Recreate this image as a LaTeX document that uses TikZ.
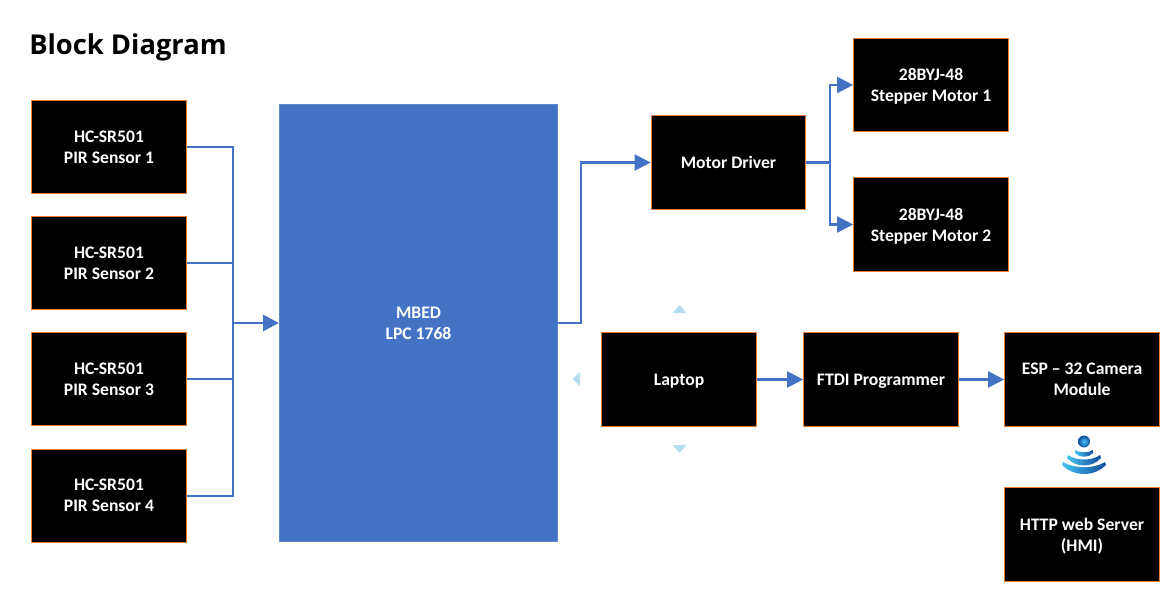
\documentclass[tikz,border=0pt]{standalone}
\usepackage{fontspec}
\setmainfont{Carlito}
\newfontfamily\titlefont{Open Sans}
\usetikzlibrary{positioning,arrows.meta}
\definecolor{linkblue}{HTML}{4472C4}
\definecolor{rimorange}{HTML}{ED7D31}
\definecolor{handleblue}{HTML}{B5DCEC}
\definecolor{wifilight}{HTML}{45C3F2}
\definecolor{wifidark}{HTML}{124C9C}
\tikzset{
	blockfont/.style={font=\bfseries\fontsize{13.2}{15.8}\selectfont},
	blockbox/.style={draw=rimorange, line width=0.75pt, fill=black, text=white, blockfont, align=center, minimum width=116pt, minimum height=69.8pt, inner sep=0pt},
	flatbox/.style={blockbox, text depth=0pt},
	link/.style={draw=linkblue, line width=1.6pt, -{Triangle[length=12pt, width=12pt]}},
	wire/.style={draw=linkblue, line width=1.6pt},
	handle/.style={fill=handleblue},
	wifiarc/.style={left color=wifilight, right color=wifidark},
}
\begin{document}
\begin{tikzpicture}[
		x=0.75pt, y=-0.75pt,
		node distance=16.6pt,
	]
		\useasboundingbox (0,0) rectangle (1175,602);
		\node (title) at (29,55) [anchor=base west, inner sep=0pt, font=\titlefont\bfseries\fontsize{20.5}{22}\selectfont] {Block Diagram};

		\node (pir1) at (109,147) [blockbox] {HC-SR501\\PIR Sensor 1};
		\node (pir2) [blockbox, below=of pir1] {HC-SR501\\PIR Sensor 2};
		\node (pir3) [blockbox, below=of pir2] {HC-SR501\\PIR Sensor 3};
		\node (pir4) [blockbox, below=of pir3] {HC-SR501\\PIR Sensor 4};
		\node (mbed) at (418.5,323) [draw=linkblue!85!white, line width=0.75pt, fill=linkblue, text=white, blockfont, align=center, minimum width=208.5pt, minimum height=328pt, inner sep=0pt] {MBED\\LPC 1768};
		\node (motor) at (728.5,162.5) [blockbox] {Motor Driver};
		\node (step1) at (931,85) [flatbox] {28BYJ-48\\Stepper Motor 1};
		\node (step2) at (931,224.5) [flatbox] {28BYJ-48\\Stepper Motor 2};
		\node (laptop) at (679,379.5) [flatbox] {Laptop};
		\node (ftdi) at (881,379.5) [flatbox] {FTDI Programmer};
		\node (esp) at (1082,379.5) [blockbox] {ESP -- 32 Camera\\Module};
		\node (http) at (1082,534.5) [flatbox] {HTTP web Server\\(HMI)};

		\coordinate (bus) at (233,323);
		\coordinate (riser) at (581,323);
		\coordinate (fork) at (830,162.5);

		\draw[wire] (pir1.east) -| (bus);
		\draw[wire] (pir2.east) -| (bus);
		\draw[wire] (pir3.east) -| (bus);
		\draw[wire] (pir4.east) -| (bus);
		\draw[link, line width=2.2pt] (bus) -- (mbed.west);

		\draw[link] (mbed.east) -- (riser) |- (motor.west);
		\draw[wire, line width=2.2pt] (motor.east) -- (fork);
		\draw[link] (fork) |- (step1.west);
		\draw[link] (fork) |- (step2.west);

		\draw[link] (laptop.east) -- (ftdi.west);
		\draw[link] (ftdi.east) -- (esp.west);

		% handles round the laptop
		\fill[handle] (672.5,313) -- (679.5,305) -- (686.5,313) -- cycle;
		\fill[handle] (672.5,445) -- (679.5,453) -- (686.5,445) -- cycle;
		\fill[handle] (580,372) -- (572.5,379) -- (580,386) -- cycle;

		% wifi icon
		\shade[inner color=wifilight, outer color=wifidark] (1084,441.5) circle (6);
		\shade[wifiarc] (1075,450) .. controls (1079,453) and (1089,453) .. (1093,450) -- (1093,453) .. controls (1089,458) and (1079,458) .. (1075,453) -- cycle;
		\shade[wifiarc] (1068,455) .. controls (1076,461) and (1092,461) .. (1100,455) -- (1101,458) .. controls (1092,468) and (1076,468) .. (1067,458) -- cycle;
		\shade[wifiarc] (1063,462) .. controls (1074,469) and (1094,469) .. (1105,462) -- (1106,465) .. controls (1094,477) and (1074,477) .. (1062,465) -- cycle;
	\end{tikzpicture}
\end{document}
